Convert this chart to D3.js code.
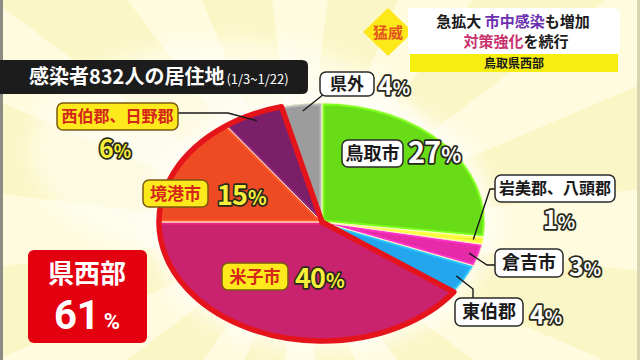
<!DOCTYPE html>
<html lang="ja">
<head>
<meta charset="UTF-8">
<title>感染者832人の居住地</title>
<script src="https://d3js.org/d3.v7.min.js"></script>
<style>
  html, body { margin: 0; padding: 0; background: #fbf6c6; }
  svg { display: block; font-family: "Noto Sans CJK JP", "Noto Sans", sans-serif; }
</style>
</head>
<body>
<svg width="640" height="360"></svg>
<script>
// data (1/3~1/22, 832人)
const regions = ["鳥取市", "岩美郡、八頭郡", "倉吉市", "東伯郡", "米子市", "境港市", "西伯郡、日野郡", "県外"];
const shares  = [27, 1, 3, 4, 40, 15, 6, 4];
const colors  = ["#69dc18", "#f4ee3a", "#e62aa8", "#23a6ee", "#c9226f", "#ee4a24", "#7b1f68", "#9c9c9c"];
const westGroup = ["米子市", "境港市", "西伯郡、日野郡"];   // 県西部
const westTotal = 61;

// label layout: box position, label style, percent position
const labels = [
  { name: "鳥取市", box: [342, 140, 61, 27], style: "white", fs: 18, pct: [408, 163], ps: 29 },
  { name: "岩美郡、八頭郡", box: [495, 175, 120, 27], style: "white", fs: 16, pct: [543, 229], ps: 25, elbow: [[495, 189], [490, 189]] },
  { name: "倉吉市", box: [495, 249, 68, 28], style: "white", fs: 18, pct: [569, 276], ps: 25, elbow: [[495, 265], [487, 265]] },
  { name: "東伯郡", box: [455, 298, 68, 28], style: "white", fs: 18, pct: [530, 324], ps: 25, elbow: [[473, 298], [473, 289]] },
  { name: "米子市", box: [222, 263, 66, 27], style: "yellow", fs: 17, pct: [295, 288], ps: 27 },
  { name: "境港市", box: [143, 180, 65, 27], style: "yellow", fs: 17, pct: [217, 205], ps: 27 },
  { name: "西伯郡、日野郡", box: [57, 103, 121, 27], style: "yellow", fs: 16, pct: [99, 158], ps: 25, elbow: [[178, 113], [228, 113]] },
  { name: "県外", box: [320, 72, 54, 24], style: "white", fs: 17, pct: [378, 95], ps: 25, elbow: [[324, 94]] }
];

const svg = d3.select("svg");
const defs = svg.append("defs");

// background with soft rays
const bg = svg.append("g");
bg.append("rect").attr("width", 640).attr("height", 360).attr("fill", "#fbf6c6");
const rayArc = d3.arc().innerRadius(0).outerRadius(700);
d3.range(0, 12).forEach(i => {
  bg.append("path")
    .attr("transform", "translate(300,230)")
    .attr("d", rayArc({ startAngle: i * Math.PI / 6 - 0.12, endAngle: i * Math.PI / 6 + 0.12 }))
    .attr("fill", "#fffdea")
    .attr("opacity", 0.7);
});
defs.append("filter").attr("id", "blur").append("feGaussianBlur").attr("stdDeviation", 10);
bg.append("ellipse").attr("cx", 230).attr("cy", 150).attr("rx", 200).attr("ry", 110)
  .attr("fill", "#fffef5").attr("opacity", 0.6).attr("filter", "url(#blur)");
svg.append("rect").attr("x", 0).attr("y", 0).attr("width", 3).attr("height", 360).attr("fill", "#8c8c84");
svg.append("rect").attr("x", 637).attr("y", 0).attr("width", 3).attr("height", 360).attr("fill", "#d8d4b0");

// pie (elliptical)
const cx = 322, cy = 222, rx = 163, ry = 119;
const pie = d3.pie().sort(null).value(d => d.v);
const arcs = pie(regions.map((r, i) => ({ name: r, v: shares[i], color: colors[i] })));
const arc = d3.arc().innerRadius(0).outerRadius(ry);

// glow behind pie
svg.append("ellipse").attr("cx", cx).attr("cy", cy).attr("rx", rx + 10).attr("ry", ry + 10)
  .attr("fill", "#ffffff").attr("opacity", 0.7).attr("filter", "url(#blur)");

const pg = svg.append("g").attr("transform", `translate(${cx},${cy}) scale(${rx / ry},1)`);

arcs.forEach((d, i) => {
  defs.append("clipPath").attr("id", "clip" + i).append("path").attr("d", arc(d));
});

pg.selectAll("path.slice")
  .data(arcs)
  .join("path")
  .attr("class", "slice")
  .attr("d", arc)
  .attr("fill", d => d.data.color);

// inner bevel highlight
pg.selectAll("path.bevel")
  .data(arcs)
  .join("path")
  .attr("class", "bevel")
  .attr("d", arc)
  .attr("fill", "none")
  .attr("clip-path", (d, i) => `url(#clip${i})`)
  .attr("stroke", d => d3.color(d.data.color).brighter(0.5))
  .attr("stroke-width", 5)
  .attr("vector-effect", "non-scaling-stroke");

// thin separators
pg.selectAll("path.sep")
  .data(arcs)
  .join("path")
  .attr("class", "sep")
  .attr("d", arc)
  .attr("fill", "none")
  .attr("stroke", "#fff9cc")
  .attr("stroke-width", 0.8)
  .attr("vector-effect", "non-scaling-stroke");

// red outline around 県西部
const west = arcs.filter(d => westGroup.includes(d.data.name));
pg.append("path")
  .attr("d", arc({ startAngle: d3.min(west, d => d.startAngle), endAngle: d3.max(west, d => d.endAngle) }))
  .attr("fill", "none")
  .attr("stroke", "#e5141b")
  .attr("stroke-width", 5.5)
  .attr("stroke-linejoin", "round")
  .attr("vector-effect", "non-scaling-stroke");

// anchor on the ellipse for leader lines
function anchor(d, k) {
  const a = (d.startAngle + d.endAngle) / 2;
  return [cx + rx * k * Math.sin(a), cy - ry * k * Math.cos(a)];
}

const lg = svg.append("g");
labels.forEach(l => {
  const d = arcs.find(a => a.data.name === l.name);
  if (l.elbow) {
    const pts = l.elbow.concat([anchor(d, 0.94)]);
    lg.append("path")
      .attr("d", d3.line()(pts))
      .attr("fill", "none")
      .attr("stroke", "#1a1a1a")
      .attr("stroke-width", 1.4);
  }
  const [bx, by, bw, bh] = l.box;
  const yellow = l.style === "yellow";
  lg.append("rect")
    .attr("x", bx).attr("y", by).attr("width", bw).attr("height", bh)
    .attr("rx", 6)
    .attr("fill", yellow ? "#fde91c" : "#ffffff")
    .attr("stroke", yellow ? "#7a5a10" : "#2a2a2a")
    .attr("stroke-width", 1.5);
  lg.append("text")
    .attr("x", bx + bw / 2).attr("y", by + bh / 2 + l.fs * 0.36)
    .attr("text-anchor", "middle")
    .attr("font-size", l.fs)
    .attr("font-weight", 700)
    .attr("fill", yellow ? "#d42619" : "#1a1a1a")
    .text(l.name);
  const t = lg.append("text")
    .attr("x", l.pct[0]).attr("y", l.pct[1])
    .attr("font-weight", 700)
    .attr("fill", yellow ? "#f8ef3a" : "#ffffff")
    .attr("stroke", "#2a2a1a")
    .attr("stroke-width", 3.5)
    .attr("stroke-linejoin", "round")
    .attr("paint-order", "stroke")
    .attr("letter-spacing", -1);
  t.append("tspan").attr("font-size", l.ps).text(d.data.v);
  t.append("tspan").attr("font-size", l.ps * 0.72).attr("dx", 1).text("%");
});

// title bar
svg.append("path")
  .attr("d", "M0,60 H302 Q308,60 308,66 V88 Q308,94 302,94 H0 Z")
  .attr("fill", "#1c1c1c");
const title = svg.append("text").attr("x", 29).attr("y", 84).attr("fill", "#ffffff").attr("font-weight", 700);
title.append("tspan").attr("font-size", 20).text("感染者832人の居住地");
title.append("tspan").attr("font-size", 13).attr("dx", 2).attr("font-weight", 400).text("(1/3~1/22)");

// 県西部 61% box
svg.append("rect").attr("x", 28).attr("y", 250).attr("width", 119).attr("height", 93).attr("rx", 6)
  .attr("fill", "#e3000f");
svg.append("text").attr("x", 87).attr("y", 283).attr("text-anchor", "middle")
  .attr("font-size", 26).attr("font-weight", 700).attr("fill", "#ffffff").text("県西部");
const big = svg.append("text").attr("x", 87).attr("y", 329).attr("text-anchor", "middle")
  .attr("font-family", "Roboto, 'Noto Sans', sans-serif")
  .attr("font-weight", 700).attr("fill", "#ffffff");
big.append("tspan").attr("font-size", 40).text(westTotal);
big.append("tspan").attr("font-size", 22).attr("dx", 4).text("%");

// top-right caption
const cap = svg.append("g");
cap.append("path").attr("d", "M388,8 L413,32 L388,56 L363,32 Z").attr("fill", "#fde81a");
cap.append("text").attr("x", 388).attr("y", 38).attr("text-anchor", "middle")
  .attr("font-size", 15).attr("font-weight", 700).attr("fill", "#e2561e").text("猛威");
cap.append("path").attr("d", "M408,8 H612 Q620,8 620,16 V46 Q620,54 612,54 H408 Z").attr("fill", "#ffffff");
cap.append("rect").attr("x", 410).attr("y", 54).attr("width", 208).attr("height", 18).attr("fill", "#f6ee10");
const l1 = cap.append("text").attr("x", 513).attr("y", 27).attr("text-anchor", "middle")
  .attr("font-size", 15).attr("font-weight", 700).attr("fill", "#1a1a1a");
l1.append("tspan").text("急拡大 ");
l1.append("tspan").attr("fill", "#6b2fb0").text("市中感染");
l1.append("tspan").text("も増加");
const l2 = cap.append("text").attr("x", 516).attr("y", 47).attr("text-anchor", "middle")
  .attr("font-size", 15).attr("font-weight", 700).attr("fill", "#1a1a1a");
l2.append("tspan").attr("fill", "#c8306e").text("対策強化");
l2.append("tspan").text("を続行");
cap.append("text").attr("x", 514).attr("y", 68).attr("text-anchor", "middle")
  .attr("font-size", 12).attr("font-weight", 700).attr("fill", "#1a1a1a").text("鳥取県西部");
</script>
</body>
</html>
